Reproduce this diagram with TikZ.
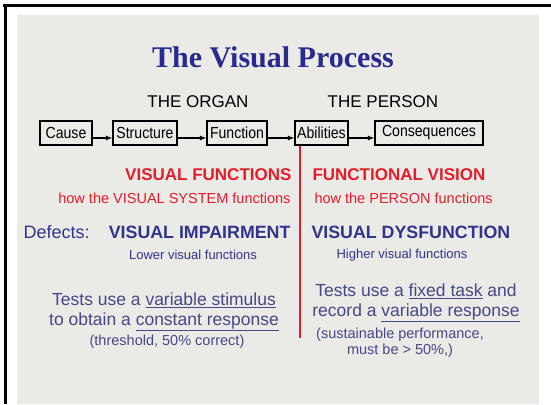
\documentclass[tikz,border=0pt]{standalone}
\usepackage{fontspec}
\setmainfont{Liberation Sans}
\newfontfamily\titlefont{Liberation Serif}
\newfontfamily\boxfont[FakeStretch=0.88]{Liberation Sans}
\usepackage{tikz}
\usetikzlibrary{arrows}

\definecolor{panelgray}{RGB}{234,234,231}
\definecolor{titleblue}{RGB}{42,42,140}
\definecolor{defblue}{RGB}{52,52,138}
\definecolor{testblue}{RGB}{72,72,132}
\definecolor{visred}{RGB}{226,30,42}

\begin{document}
\begin{tikzpicture}[x=1pt,y=-1pt,
	stepbox/.style={draw=black, line width=1.4pt, minimum height=24pt, inner sep=0pt, font=\boxfont\fontsize{16}{18}\selectfont},
	flow/.style={-latex, line width=1.2pt},
	head/.style={font=\fontsize{17}{20}\selectfont},
	redhead/.style={color=visred, font=\bfseries\fontsize{17}{20}\selectfont},
	redsub/.style={color=visred, font=\fontsize{14.5}{17}\selectfont},
	bluehead/.style={color=defblue, font=\bfseries\fontsize{17.8}{20}\selectfont},
	bluesub/.style={color=defblue, font=\fontsize{13}{15}\selectfont},
	tests/.style={color=testblue, align=center, font=\fontsize{17.5}{20}\selectfont},
	note/.style={color=testblue, align=center, font=\fontsize{14.5}{15.5}\selectfont}]
\useasboundingbox (0,0) rectangle (551,404);
	% frame and slide
	\fill[color=black] (3,4.5) rectangle (551,7.3);
	\fill[color=black] (3.5,4.5) rectangle (6.5,404);
	\fill[color=panelgray] (17,15) rectangle (539,404);
	%
	\node[color=titleblue, font=\titlefont\bfseries\fontsize{30}{33}\selectfont] (title) at (273,57) {The Visual Process};
	\node[head] (organ) at (198,102) {THE ORGAN};
	\node[head] (person) at (383,102) {THE PERSON};
	%
	\node[stepbox, minimum width=52pt] (cause) at (66,133) {Cause};
	\node[stepbox, minimum width=64pt] (struct) at (145,133) {Structure};
	\node[stepbox, minimum width=60pt] (func) at (237,133) {Function};
	\node[stepbox, minimum width=53pt] (abil) at (321.5,133) {Abilities};
	\node[stepbox, minimum width=108pt] (conseq) at (429,133) {Consequences};
	\draw[flow] ([yshift=-5pt]cause.east) -- ([yshift=-5pt]struct.west);
	\draw[flow] ([yshift=-5pt]struct.east) -- ([yshift=-5pt]func.west);
	\draw[flow] ([yshift=-5pt]func.east) -- ([yshift=-5pt]abil.west);
	\draw[flow] ([yshift=-5pt]abil.east) -- ([yshift=-5pt]conseq.west);
	%
	\coordinate (divtop) at (300,146);
	\coordinate (divbot) at (300,338);
	\draw[color=visred, line width=2pt] (divtop) -- (divbot);
	%
	\node[redhead, anchor=east] (vfunc) at (295,175) {VISUAL FUNCTIONS};
	\node[redhead, anchor=west] (fvision) at (309,175) {FUNCTIONAL VISION};
	\node[redsub, anchor=east] (vsys) at (294,198) {how the VISUAL SYSTEM functions};
	\node[redsub, anchor=west] (vperson) at (311,198) {how the PERSON functions};
	%
	\node[color=defblue, anchor=west, font=\fontsize{18}{20}\selectfont] (defects) at (20,232) {Defects:};
	\node[bluehead, anchor=east] (impair) at (294,232) {VISUAL IMPAIRMENT};
	\node[bluehead, anchor=west] (dysfunc) at (308,232) {VISUAL DYSFUNCTION};
	\node[bluesub] (lower) at (193,255) {Lower visual functions};
	\node[bluesub] (higher) at (402,255) {Higher visual functions};
	%
	\node[tests] (testl) at (164,312) {Tests use a \underline{variable stimulus}\\to obtain a \underline{constant response}};
	\node[note] (thresh) at (167,342) {(threshold, 50\% correct)};
	\node[tests] (testr) at (416,303) {Tests use a \underline{fixed task} and\\record a \underline{variable response}};
	\node[note] (sustain) at (400,342.5) {(sustainable performance,\\must be > 50\%,)};
\end{tikzpicture}
\end{document}
